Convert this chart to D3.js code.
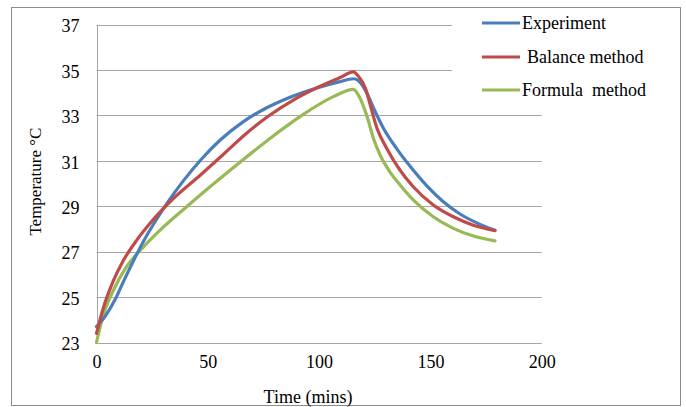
<!DOCTYPE html>
<html>
<head>
<meta charset="utf-8">
<script src="https://cdn.jsdelivr.net/npm/d3@7"></script>
<style>
  html, body { margin: 0; padding: 0; background: #fff; }
  svg { display: block; }
  text { font-family: "Liberation Serif", "Times New Roman", serif; fill: #000; }
</style>
</head>
<body>
<svg id="chart" width="686" height="407"></svg>
<script>
// ---- data ----
const seriesNames = ["Experiment", "Balance method", "Formula  method"];
const seriesColors = ["#4A7EBB", "#BE4B48", "#98B954"];

const expTime = [0, 3.8, 8.3, 12, 16.5, 21, 27, 31.5, 39, 46.7, 55.7, 66, 76.5, 88.4, 99, 109.4, 115.4, 117.5, 121.4, 124.4, 128.9, 135, 140.8, 148.3, 155.8, 163.3, 170.8, 179];
const expTemp = [23.7, 24.14, 24.88, 25.66, 26.58, 27.44, 28.43, 29.11, 30.12, 31.03, 31.93, 32.73, 33.34, 33.86, 34.21, 34.49, 34.62, 34.55, 34.0, 33.34, 32.44, 31.52, 30.77, 29.91, 29.2, 28.66, 28.27, 27.94];

const balTime = [0, 3, 7.5, 12, 18, 25.5, 34.5, 46.7, 55.7, 66, 76.5, 88.4, 99, 109.4, 115.4, 117.5, 120.8, 123, 126, 130.4, 136.3, 142.3, 151.3, 160.3, 169.3, 179];
const balTemp = [23.4, 24.5, 25.7, 26.6, 27.5, 28.42, 29.34, 30.38, 31.17, 32.1, 32.92, 33.68, 34.22, 34.67, 34.92, 34.75, 34.2, 33.46, 32.44, 31.55, 30.6, 29.86, 29.06, 28.54, 28.17, 27.93];

const forTime = [0, 3, 7.5, 13.5, 21, 30, 40.5, 51, 61.4, 76.5, 91.4, 106.4, 115.4, 118.4, 121.4, 124.4, 127.4, 131.8, 136.3, 142.3, 151.3, 160.3, 169.3, 179];
const forTemp = [23.0, 24.2, 25.28, 26.34, 27.2, 28.08, 28.98, 29.86, 30.7, 31.88, 32.95, 33.83, 34.15, 33.76, 33.0, 32.0, 31.26, 30.52, 29.95, 29.28, 28.54, 28.03, 27.69, 27.48];

const xTicks = [0, 50, 100, 150, 200];
const yTicks = [23, 25, 27, 29, 31, 33, 35, 37];

// ---- layout ----
const svg = d3.select("#chart");
const plot = { left: 96.5, right: 541.7, top: 24.7, bottom: 342.5 };

const x = d3.scaleLinear().domain([0, 200]).range([plot.left, plot.right]);
const y = d3.scaleLinear().domain([23, 37]).range([plot.bottom, plot.top]);

// outer frame
svg.append("rect")
  .attr("x", 11.5).attr("y", 7.5).attr("width", 669).attr("height", 398)
  .attr("fill", "#fff").attr("stroke", "#8c8c8c").attr("stroke-width", 1);

// gridlines
svg.append("g").selectAll("line").data(yTicks).join("line")
  .attr("x1", plot.left).attr("x2", plot.right)
  .attr("y1", d => Math.round(y(d)) + 0.5).attr("y2", d => Math.round(y(d)) + 0.5)
  .attr("stroke", "#a6a6a6").attr("stroke-width", 1);

// left axis line
svg.append("line")
  .attr("x1", Math.round(plot.left) + 0.5).attr("x2", Math.round(plot.left) + 0.5)
  .attr("y1", y(37)).attr("y2", Math.round(y(23)) + 0.5)
  .attr("stroke", "#a6a6a6").attr("stroke-width", 1);

// y tick labels
const yAxis = d3.axisLeft(y).tickValues(yTicks).tickSize(0).tickPadding(17);
const gy = svg.append("g").attr("transform", `translate(${plot.left},0)`).call(yAxis);
gy.select(".domain").remove();
gy.selectAll("text").attr("font-size", 18).attr("font-family", "Liberation Serif").attr("fill", "#000").attr("dy", "0.4em");

// x tick labels
const xAxis = d3.axisBottom(x).tickValues(xTicks).tickSize(0).tickPadding(13);
const gx = svg.append("g").attr("transform", `translate(0,${plot.bottom})`).call(xAxis);
gx.select(".domain").remove();
gx.selectAll("text").attr("font-size", 18).attr("font-family", "Liberation Serif").attr("fill", "#000");

// axis titles
svg.append("text")
  .attr("transform", `translate(41,${(plot.top + plot.bottom) / 2 - 2}) rotate(-90)`)
  .attr("text-anchor", "middle").attr("font-size", 17).text("Temperature °C");
svg.append("text")
  .attr("x", 308).attr("y", 403)
  .attr("text-anchor", "middle").attr("font-size", 18).text("Time (mins)");

// series
const series = [
  { t: expTime, v: expTemp },
  { t: balTime, v: balTemp },
  { t: forTime, v: forTemp }
];
const line = d3.line().x(d => x(d[0])).y(d => y(d[1])).curve(d3.curveMonotoneX);

// legend background (covers top gridlines)
svg.append("rect")
  .attr("x", 452).attr("y", 9).attr("width", 226).attr("height", 98).attr("fill", "#fff");

const order = [2, 0, 1];
order.forEach(i => {
  const s = series[i];
  const pts = s.t.map((t, k) => [t, s.v[k]]);
  svg.append("path").datum(pts)
    .attr("d", line)
    .attr("fill", "none")
    .attr("stroke", seriesColors[i])
    .attr("stroke-width", 3.2)
    .attr("stroke-linejoin", "round")
    .attr("stroke-linecap", "round");
});

// legend
const legY = [23, 57, 90];
const legTextX = [522, 527, 522];
seriesNames.forEach((name, i) => {
  svg.append("line")
    .attr("x1", 482).attr("x2", 520)
    .attr("y1", legY[i]).attr("y2", legY[i])
    .attr("stroke", seriesColors[i]).attr("stroke-width", 3.2);
  svg.append("text")
    .attr("x", legTextX[i]).attr("y", legY[i]).attr("dy", "0.33em")
    .attr("font-size", 18).attr("xml:space", "preserve")
    .style("white-space", "pre")
    .text(name);
});
</script>
</body>
</html>
